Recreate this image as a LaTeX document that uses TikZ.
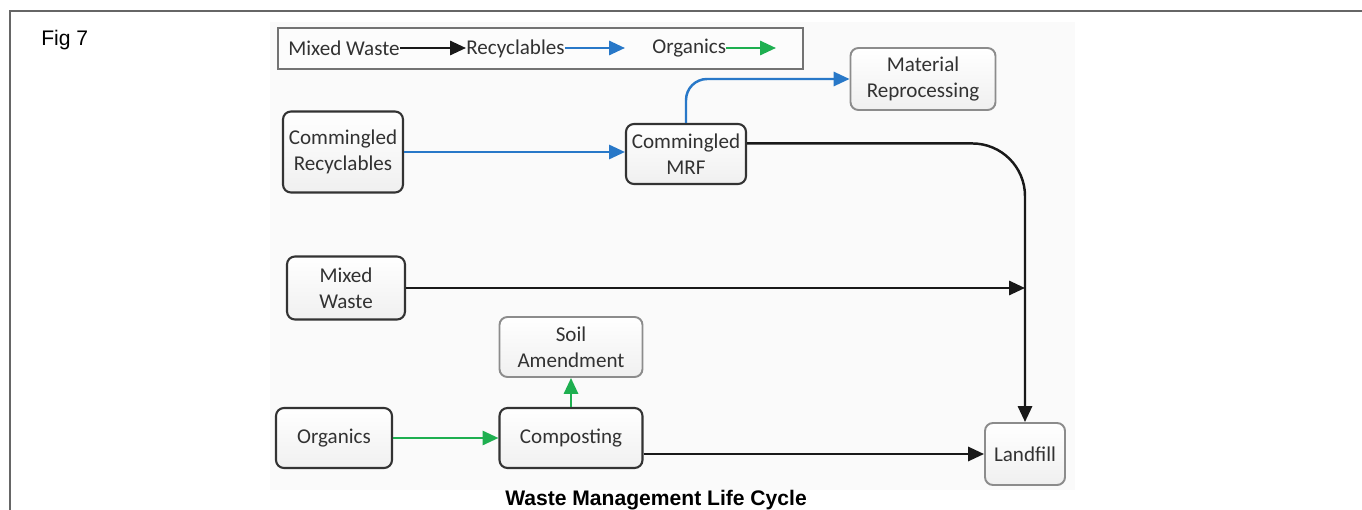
\documentclass[tikz,border=0pt]{standalone}
\usepackage{fontspec}
\setmainfont{Carlito}
\newfontfamily\arialfont{Liberation Sans}
\usetikzlibrary{arrows.meta}
\definecolor{flowblue}{RGB}{40,120,200}
\definecolor{flowgreen}{RGB}{30,175,80}
\definecolor{boxtext}{RGB}{50,50,50}
\tikzset{
  darkbox/.style={draw=black!80, line width=1.2pt, rounded corners=4.5pt, align=center,
    top color=white, bottom color=black!6, text=boxtext, font=\fontsize{12}{15}\selectfont, inner sep=2pt},
  lightbox/.style={draw=black!45, line width=1.1pt, rounded corners=4.5pt, align=center,
    top color=white, bottom color=black!6, text=boxtext, font=\fontsize{12}{15}\selectfont, inner sep=2pt},
  flowarrow/.style={line width=1.4pt, -{Triangle[length=9pt,width=8pt]}},
  blackflow/.style={flowarrow, draw=black!90},
  blueflow/.style={flowarrow, draw=flowblue},
  greenflow/.style={flowarrow, draw=flowgreen},
  legendtext/.style={text=boxtext, font=\fontsize{12}{15}\selectfont, inner sep=0pt, anchor=west},
}
\begin{document}
\begin{tikzpicture}[x=0.02cm, y=-0.02cm]
\useasboundingbox (0,0) rectangle (1362,510);
% outer frame (top and left)
\draw[black!60, line width=1pt] (1362,11) -- (10,11) -- (10,510);
\node[font=\arialfont\fontsize{12}{14}\selectfont, anchor=base west, inner sep=0pt] (fig) at (41,46) {Fig 7};
% faint panel of the diagram
\fill[black!2] (270,22) rectangle (1075,490);
% legend
\draw[black!55, line width=1.2pt, fill=black!1] (278,28) rectangle (803,69);
\node[legendtext] (lgmw) at (288,48) {Mixed Waste};
\node[legendtext] (lgrec) at (466,49) {Recyclables};
\node[legendtext] (lgorg) at (652,48) {Organics};
\coordinate (lgblueend) at (625,48);
\coordinate (lggreenend) at (776,48);
\draw[blackflow] (lgmw.east) -- (lgrec.west |- lgmw.east);
\draw[blueflow] (lgrec.east |- lgblueend) -- (lgblueend);
\draw[greenflow] (lgorg.east |- lggreenend) -- (lggreenend);
% nodes
\node[darkbox, minimum width=2.4cm, minimum height=1.62cm] (cr) at (343,152) {Commingled\\Recyclables};
\node[darkbox, minimum width=2.4cm, minimum height=1.2cm] (mrf) at (686,154) {Commingled\\MRF};
\node[lightbox, minimum width=2.9cm, minimum height=1.24cm] (matrep) at (923,79) {Material\\Reprocessing};
\node[darkbox, minimum width=2.36cm, minimum height=1.26cm] (mw) at (346,288) {Mixed\\Waste};
\node[lightbox, minimum width=2.86cm, minimum height=1.2cm] (soil) at (571,347) {Soil\\Amendment};
\node[darkbox, minimum width=2.32cm, minimum height=1.2cm] (org) at (334,438) {Organics};
\node[darkbox, minimum width=2.86cm, minimum height=1.2cm] (comp) at (571,438) {Composting};
\node[lightbox, minimum width=1.6cm, minimum height=1.24cm] (landfill) at (1025,454) {Landfill};
% connectors
\draw[blueflow] (cr.east) -- (cr.east -| mrf.west);
\draw[blueflow, rounded corners=12pt] (mrf.north) |- (matrep.west);
\draw[blackflow, rounded corners=30pt] ([yshift=6pt]mrf.east) -| (landfill.north);
\draw[blackflow] (mw.east) -- (mw.east -| landfill.north);
\draw[greenflow] (org.east) -- (comp.west);
\draw[greenflow] (comp.north) -- (soil.south);
\draw[blackflow] (comp.east |- landfill.west) -- (landfill.west);
% caption
\node[font=\arialfont\bfseries\fontsize{12}{14}\selectfont, inner sep=0pt] (caption) at (656,500) {Waste Management Life Cycle};
\end{tikzpicture}
\end{document}
